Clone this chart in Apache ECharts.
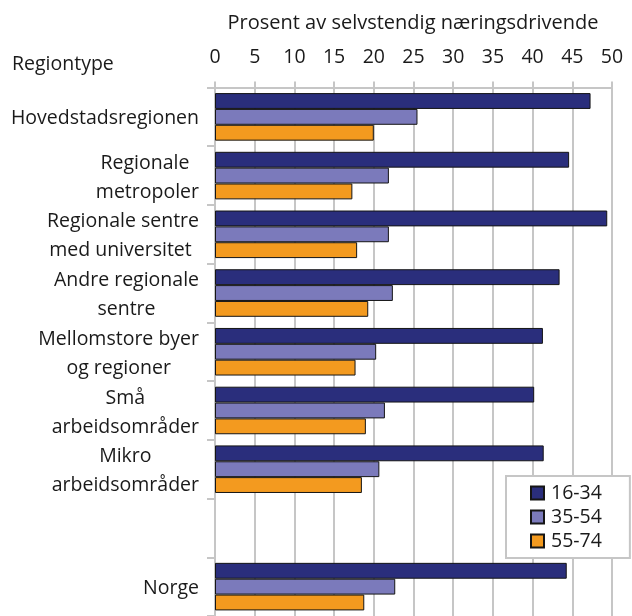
<!DOCTYPE html>
<html>
<head>
<meta charset="utf-8">
<script src="https://cdn.jsdelivr.net/npm/echarts@6/dist/echarts.min.js"></script>
<style>
html,body{margin:0;padding:0;background:#fff;}
#c{width:632px;height:616px;}
</style>
</head>
<body>
<div id="c"></div>
<script>
var categories = ['Hovedstadsregionen', 'Regionale \nmetropoler', 'Regionale sentre\nmed universitet ', 'Andre regionale\nsentre', 'Mellomstore byer\nog regioner', 'Små\narbeidsområder', 'Mikro\narbeidsområder', '', 'Norge'];
var seriesNames = ['16-34', '35-54', '55-74'];
var values1634 = [47.3, 44.6, 49.4, 43.4, 41.3, 40.2, 41.4, '-', 44.3];
var values3554 = [25.5, 21.9, 21.9, 22.4, 20.3, 21.4, 20.7, '-', 22.7];
var values5574 = [20.0, 17.3, 17.9, 19.3, 17.7, 19.0, 18.5, '-', 18.8];
var xTicks = [0, 5, 10, 15, 20, 25, 30, 35, 40, 45, 50];
var axisTitle = 'Prosent av selvstendig næringsdrivende';
var catTitle = 'Regiontype';

var colors = ['#2a2e7c', '#7b7abb', '#f39a1f'];
var FONT = 'Open Sans';
var FS = 19.5;
var chart = echarts.init(document.getElementById('c'), null, {renderer: 'canvas'});
var allValues = [values1634, values3554, values5574];
var series = seriesNames.map(function (n, i) {
  return {
    name: n, type: 'bar', data: allValues[i],
    barGap: '0%', barCategoryGap: '19%',
    itemStyle: {color: colors[i], borderColor: '#151515', borderWidth: 1},
    emphasis: {disabled: true}
  };
});
chart.setOption({
  animation: false,
  textStyle: {fontFamily: FONT},
  grid: {left: 215, right: 20, top: 87.5, bottom: -5.5, containLabel: false},
  xAxis: {
    type: 'value', position: 'top', min: xTicks[0], max: xTicks[xTicks.length - 1], interval: 5,
    axisLine: {show: true, lineStyle: {color: '#c6c6c6', width: 2}},
    axisTick: {show: true, length: 6, lineStyle: {color: '#c6c6c6', width: 2}},
    splitLine: {show: true, lineStyle: {color: '#c6c6c6', width: 2}},
    axisLabel: {fontSize: FS, color: '#1a1a1a', margin: 20, fontFamily: FONT}
  },
  yAxis: {
    type: 'category', inverse: true, data: categories,
    axisLine: {show: true, lineStyle: {color: '#c6c6c6', width: 2}},
    axisTick: {show: true, length: 8, lineStyle: {color: '#c6c6c6', width: 2}},
    splitLine: {show: false},
    axisLabel: {
      fontSize: FS, color: '#1a1a1a', margin: 16, lineHeight: 29, align: 'right', fontFamily: FONT, interval: 0,
      formatter: function (v) {
        if (!v) return '';
        return v.split('\n').map(function (l) { return '{c|' + l + '}'; }).join('\n');
      },
      rich: {c: {align: 'center', fontSize: FS, lineHeight: 29, fontFamily: FONT, color: '#1a1a1a', padding: [4, 0, 0, 0]}}
    }
  },
  legend: {
    data: seriesNames, orient: 'vertical', left: 506, top: 476,
    itemWidth: 13, itemHeight: 13, itemGap: 4, icon: 'rect',
    backgroundColor: '#fff', borderColor: '#c6c6c6', borderWidth: 2,
    padding: [7, 28, 7, 24],
    textStyle: {fontSize: FS, color: '#1a1a1a', fontFamily: FONT, padding: [0, 0, 0, 2]}
  },
  graphic: [
    {type: 'text', left: 12, top: 54, style: {text: catTitle, fontSize: FS, fill: '#1a1a1a', fontFamily: FONT}},
    {type: 'text', x: 413, y: 23, style: {text: axisTitle, fontSize: 20, fill: '#1a1a1a', fontFamily: FONT, align: 'center', verticalAlign: 'middle'}}
  ],
  series: series
});
</script>
</body>
</html>
